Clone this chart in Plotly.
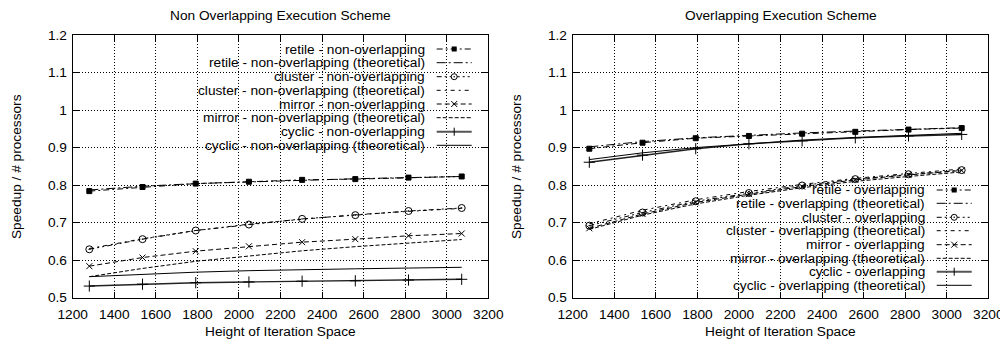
import plotly.graph_objects as go

# ---------------- data ----------------
heights = [1280, 1536, 1792, 2048, 2304, 2560, 2816, 3072]

# Non overlapping execution scheme
retile_non = [0.784, 0.795, 0.804, 0.809, 0.814, 0.816, 0.820, 0.823]
retile_non_theo = [0.787, 0.797, 0.804, 0.809, 0.813, 0.817, 0.820, 0.823]
cluster_non = [0.629, 0.656, 0.679, 0.695, 0.710, 0.720, 0.731, 0.739]
cluster_non_theo = [0.631, 0.657, 0.679, 0.696, 0.709, 0.721, 0.730, 0.738]
mirror_non = [0.584, 0.607, 0.624, 0.637, 0.648, 0.656, 0.665, 0.671]
mirror_non_theo = [0.556, 0.578, 0.597, 0.612, 0.625, 0.636, 0.646, 0.655]
cyclic_non = [0.531, 0.536, 0.540, 0.542, 0.544, 0.545, 0.547, 0.549]
cyclic_non_theo = [0.556, 0.563, 0.568, 0.572, 0.575, 0.577, 0.579, 0.581]

# Overlapping execution scheme
retile_ov = [0.897, 0.913, 0.925, 0.931, 0.937, 0.942, 0.948, 0.952]
retile_ov_theo = [0.902, 0.916, 0.926, 0.933, 0.939, 0.944, 0.949, 0.953]
cluster_ov = [0.692, 0.727, 0.757, 0.779, 0.799, 0.816, 0.829, 0.840]
cluster_ov_theo = [0.697, 0.733, 0.761, 0.783, 0.802, 0.818, 0.831, 0.843]
mirror_ov = [0.685, 0.723, 0.754, 0.776, 0.796, 0.814, 0.827, 0.839]
mirror_ov_theo = [0.682, 0.720, 0.750, 0.773, 0.793, 0.810, 0.823, 0.835]
cyclic_ov = [0.861, 0.880, 0.897, 0.910, 0.918, 0.926, 0.931, 0.935]
cyclic_ov_theo = [0.868, 0.886, 0.900, 0.911, 0.920, 0.927, 0.933, 0.938]

left_labels = [
    "retile - non-overlapping",
    "retile - non-overlapping (theoretical)",
    "cluster - non-overlapping",
    "cluster - non-overlapping (theoretical)",
    "mirror - non-overlapping",
    "mirror - non-overlapping (theoretical)",
    "cyclic - non-overlapping",
    "cyclic - non-overlapping (theoretical)",
]
right_labels = [
    "retile - overlapping",
    "retile - overlapping (theoretical)",
    "cluster - overlapping",
    "cluster - overlapping (theoretical)",
    "mirror - overlapping",
    "mirror - overlapping (theoretical)",
    "cyclic - overlapping",
    "cyclic - overlapping (theoretical)",
]
left_series = [retile_non, retile_non_theo, cluster_non, cluster_non_theo,
               mirror_non, mirror_non_theo, cyclic_non, cyclic_non_theo]
right_series = [retile_ov, retile_ov_theo, cluster_ov, cluster_ov_theo,
                mirror_ov, mirror_ov_theo, cyclic_ov, cyclic_ov_theo]

# styles: (dash, marker symbol or None, line width, color)
styles = [
    ("6px,3px,2px,3px", "square", 1.0, "#000"),
    ("9px,3px,2px,3px", None, 1.0, "#000"),
    ("5px,3px,2px,3px,2px,3px", "circle-open-dot", 1.0, "#000"),
    ("4px,4px,2px,4px", None, 1.0, "#000"),
    ("5px,3px", "x-thin", 1.0, "#000"),
    ("4px,2px", None, 1.0, "#000"),
    ("solid", "cross-thin", 1.4, "#222"),
    ("solid", None, 1.0, "#000"),
]

# page body has an 8px margin: lay out in reference pixel coords shifted by it
OX, OY = 8, 8
W, H = 1000, 335
FONT = "Liberation Sans, Arial, Helvetica, sans-serif"
FS = 13.7


def px(x):
    return (x - OX) / W


def py(y):
    return 1 - (y - OY) / H


L0, L1 = 72.7, 488.3
R0, R1 = 572.7, 988.3
T, B = 35.0, 297.7

fig = go.Figure()

for (series, labels, xa, ya) in [(left_series, left_labels, "x", "y"),
                                 (right_series, right_labels, "x2", "y2")]:
    for vals, name, (dash, sym, lw, col) in zip(series, labels, styles):
        mode = "lines+markers" if sym else "lines"
        tr = dict(x=heights, y=vals, name=name, mode=mode, xaxis=xa, yaxis=ya,
                  showlegend=False,
                  line=dict(color=col, width=lw, dash=dash))
        if sym:
            size = {"square": 5, "circle-open-dot": 7, "x-thin": 6, "cross-thin": 8}[sym]
            tr["marker"] = dict(symbol=sym, size=size, color="#000",
                                line=dict(color="#000", width=1))
        fig.add_trace(go.Scatter(**tr))

axis_common = dict(
    range=[1200, 3200], dtick=200, tick0=1200,
    showline=True, linecolor="#000", linewidth=1, mirror="allticks",
    ticks="inside", ticklen=6, tickcolor="#000", tickwidth=1,
    showgrid=True, gridcolor="#000", gridwidth=1, griddash="1px,2px",
    zeroline=False, automargin=False,
    tickfont=dict(family=FONT, size=FS, color="#000"),
)
yaxis_common = dict(axis_common)
yaxis_common.update(range=[0.5, 1.2], dtick=0.1, tick0=0.5, tickformat="~g")

fig.update_layout(
    width=W, height=H,
    margin=dict(l=0, r=0, t=0, b=0),
    paper_bgcolor="white", plot_bgcolor="white",
    font=dict(family=FONT, size=FS, color="#000"),
    xaxis=dict(axis_common, domain=[px(L0), px(L1)], anchor="y", ticklabelstandoff=4),
    yaxis=dict(yaxis_common, domain=[py(B), py(T)], anchor="x", ticklabelstandoff=2),
    xaxis2=dict(axis_common, domain=[px(R0), px(R1)], anchor="y2", ticklabelstandoff=4),
    yaxis2=dict(yaxis_common, domain=[py(B), py(T)], anchor="x2", ticklabelstandoff=2),
)

shapes = []
annotations = []

# white key boxes hiding the grid (drawn between grid and traces)
shapes.append(dict(type="rect", xref="paper", yref="paper", layer="between",
                   x0=px(106), x1=px(L1 - 0.5), y0=py(151.5), y1=py(T + 0.5),
                   fillcolor="white", line=dict(width=0)))
shapes.append(dict(type="rect", xref="paper", yref="paper", layer="between",
                   x0=px(640), x1=px(R1 - 0.5), y0=py(B - 0.5), y1=py(182.5),
                   fillcolor="white", line=dict(width=0)))

# titles
for cx, title in [((L0 + L1) / 2, "Non Overlapping Execution Scheme"),
                  ((R0 + R1) / 2, "Overlapping Execution Scheme")]:
    annotations.append(dict(text=title, x=px(cx), y=py(15.7), xref="paper", yref="paper",
                            xanchor="center", yanchor="middle", showarrow=False,
                            font=dict(family=FONT, size=FS, color="#000")))
    annotations.append(dict(text="Height of Iteration Space", x=px(cx), y=py(331.5),
                            xref="paper", yref="paper", xanchor="center", yanchor="middle",
                            showarrow=False, font=dict(family=FONT, size=FS, color="#000")))
for lx in [16.7, 516.7]:
    annotations.append(dict(text="Speedup / # processors", x=px(lx), y=py((T + B) / 2),
                            xref="paper", yref="paper", xanchor="center", yanchor="middle",
                            textangle=-90, showarrow=False,
                            font=dict(family=FONT, size=FS, color="#000")))

# keys
left_rows = [49, 62.7, 76.7, 90.3, 104, 117.7, 131.7, 145.3]
right_rows = [190, 203.3, 217.3, 230.7, 244.7, 258.3, 271.7, 285.3]
for labels, rows, tx in [(left_labels, left_rows, 426.7), (right_labels, right_rows, 926.7)]:
    sx0, sx1 = tx + 10, tx + 45
    mx = (sx0 + sx1) / 2
    for name, ry, (dash, sym, lw, col) in zip(labels, rows, styles):
        annotations.append(dict(text=name, x=px(tx), y=py(ry), xref="paper", yref="paper",
                                xanchor="right", yanchor="middle", showarrow=False,
                                font=dict(family=FONT, size=FS, color="#000")))
        kcol = "#555" if sym == "cross-thin" else col
        kw = 2 if sym == "cross-thin" else lw
        shapes.append(dict(type="line", xref="paper", yref="paper",
                           x0=px(sx0), x1=px(sx1), y0=py(ry), y1=py(ry),
                           line=dict(color=kcol, width=kw, dash=dash)))
        if sym == "square":
            shapes.append(dict(type="rect", xref="paper", yref="paper",
                               x0=px(mx - 2.5), x1=px(mx + 2.5), y0=py(ry + 2.5), y1=py(ry - 2.5),
                               fillcolor="#000", line=dict(width=0)))
        elif sym == "circle-open-dot":
            shapes.append(dict(type="circle", xref="paper", yref="paper",
                               x0=px(mx - 3), x1=px(mx + 3), y0=py(ry + 3), y1=py(ry - 3),
                               fillcolor="white", line=dict(color="#000", width=1)))
            shapes.append(dict(type="circle", xref="paper", yref="paper",
                               x0=px(mx - 0.8), x1=px(mx + 0.8), y0=py(ry + 0.8), y1=py(ry - 0.8),
                               fillcolor="#000", line=dict(width=0)))
        elif sym == "x-thin":
            for d in (1, -1):
                shapes.append(dict(type="line", xref="paper", yref="paper",
                                   x0=px(mx - 3), x1=px(mx + 3), y0=py(ry - 3 * d), y1=py(ry + 3 * d),
                                   line=dict(color="#000", width=1)))
        elif sym == "cross-thin":
            shapes.append(dict(type="line", xref="paper", yref="paper",
                               x0=px(mx), x1=px(mx), y0=py(ry - 4), y1=py(ry + 4),
                               line=dict(color="#000", width=1)))

fig.update_layout(shapes=shapes, annotations=annotations)
fig.write_html("out.html")
